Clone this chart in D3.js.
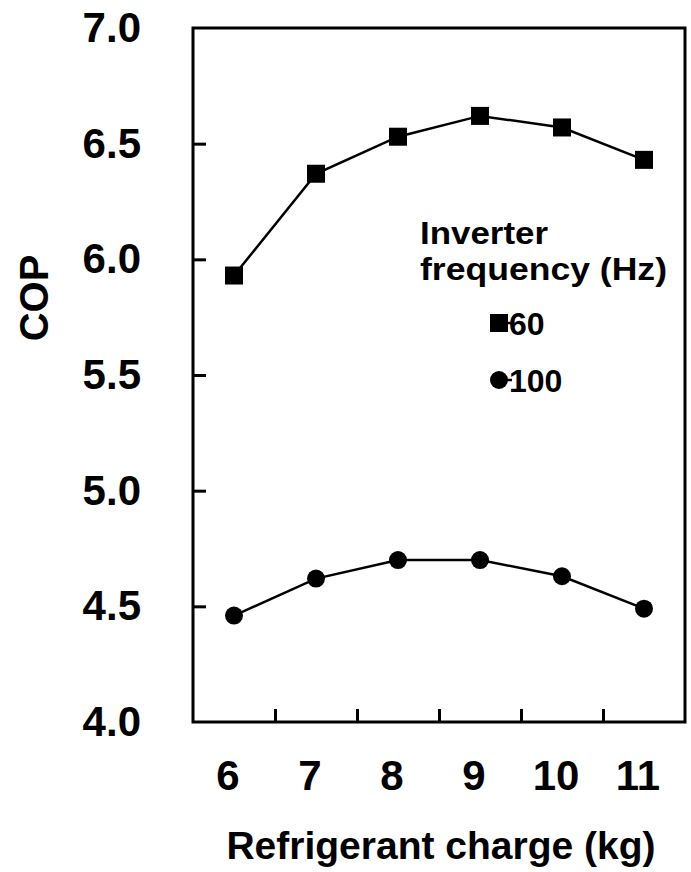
<!DOCTYPE html>
<html>
<head>
<meta charset="utf-8">
<script src="https://cdn.jsdelivr.net/npm/d3@7"></script>
<style>
  html, body { margin: 0; padding: 0; background: #fff; }
  svg { display: block; font-family: "Liberation Sans", Arial, sans-serif; font-weight: bold; }
</style>
</head>
<body>
<svg id="chart" width="691" height="872"></svg>
<script>
// Refrigerant charge (kg) on the x axis
const charges = [6, 7, 8, 9, 10, 11];
// COP at each charge, one series per inverter frequency
const cop60 = [5.93, 6.37, 6.53, 6.62, 6.57, 6.43];
const cop100 = [4.46, 4.62, 4.70, 4.70, 4.63, 4.49];
const yTicks = [4.0, 4.5, 5.0, 5.5, 6.0, 6.5, 7.0];
const xTickMarks = [6.5, 7.5, 8.5, 9.5, 10.5];
const legendTitle = ["Inverter", "frequency (Hz)"];
const legendLabels = ["60", "100"];

const svg = d3.select("#chart");
const m = { left: 193, right: 685, top: 28, bottom: 722 };

const x = d3.scaleLinear().domain([5.5, 11.5]).range([m.left, m.right]);
const y = d3.scaleLinear().domain([4, 7]).range([m.bottom, m.top]);

// Frame
svg.append("rect")
  .attr("x", m.left).attr("y", m.top)
  .attr("width", m.right - m.left).attr("height", m.bottom - m.top)
  .attr("fill", "none").attr("stroke", "#000").attr("stroke-width", 3);

// Y axis: inward ticks, labels on the left
const yAxis = d3.axisLeft(y).tickValues(yTicks).tickSize(-13).tickPadding(52)
  .tickFormat(d3.format(".1f"));
const gy = svg.append("g").attr("transform", `translate(${m.left},0)`).call(yAxis);
gy.select(".domain").remove();
gy.selectAll(".tick line").attr("stroke", "#000").attr("stroke-width", 3)
  .filter(d => d === 4 || d === 7).remove();
gy.selectAll(".tick text").attr("font-size", 42).attr("font-weight", "bold")
  .attr("fill", "#000").attr("font-family", "Liberation Sans, Arial, sans-serif");

// X axis: inward tick marks between categories
const xAxisTicks = d3.axisBottom(x).tickValues(xTickMarks).tickSize(-13).tickFormat("");
const gx = svg.append("g").attr("transform", `translate(0,${m.bottom})`).call(xAxisTicks);
gx.select(".domain").remove();
gx.selectAll(".tick line").attr("stroke", "#000").attr("stroke-width", 3);

// X labels at each charge
svg.append("g").selectAll("text").data(charges).join("text")
  .attr("x", d => x(d) - 6).attr("y", 790)
  .attr("text-anchor", "middle").attr("font-size", 42).text(d => d);

// Axis titles
svg.append("text").attr("x", 441).attr("y", 859).attr("text-anchor", "middle")
  .attr("font-size", 39).text("Refrigerant charge (kg)");
svg.append("text").attr("transform", "translate(48,298) rotate(-90)")
  .attr("text-anchor", "middle").attr("font-size", 40).text("COP");

// Series
const line = d3.line().x((d, i) => x(charges[i])).y(d => y(d));
[cop60, cop100].forEach(s => {
  svg.append("path").datum(s).attr("d", line)
    .attr("fill", "none").attr("stroke", "#000").attr("stroke-width", 2.5);
});
const sq = 18;
svg.append("g").selectAll("rect").data(cop60).join("rect")
  .attr("x", (d, i) => x(charges[i]) - sq / 2).attr("y", d => y(d) - sq / 2)
  .attr("width", sq).attr("height", sq).attr("fill", "#000");
svg.append("g").selectAll("circle").data(cop100).join("circle")
  .attr("cx", (d, i) => x(charges[i])).attr("cy", d => y(d))
  .attr("r", 9).attr("fill", "#000");

// Legend
const lg = svg.append("g");
const titleWidths = [128, 247];
lg.selectAll("text.title").data(legendTitle).join("text").attr("class", "title")
  .attr("x", 420).attr("y", (d, i) => 244 + i * 36)
  .attr("font-size", 31)
  .attr("textLength", (d, i) => titleWidths[i]).attr("lengthAdjust", "spacingAndGlyphs")
  .text(d => d);
const legendRows = [{ y: 323, shape: "square" }, { y: 380, shape: "circle" }];
legendRows.forEach((r, i) => {
  lg.append("line").attr("x1", 499).attr("x2", 512).attr("y1", r.y).attr("y2", r.y)
    .attr("stroke", "#000").attr("stroke-width", 2.5);
  if (r.shape === "square") {
    lg.append("rect").attr("x", 490).attr("y", r.y - 9).attr("width", 18).attr("height", 18).attr("fill", "#000");
  } else {
    lg.append("circle").attr("cx", 499).attr("cy", r.y).attr("r", 9).attr("fill", "#000");
  }
  lg.append("text").attr("x", 509).attr("y", r.y + 12).attr("font-size", 32).text(legendLabels[i]);
});
</script>
</body>
</html>
